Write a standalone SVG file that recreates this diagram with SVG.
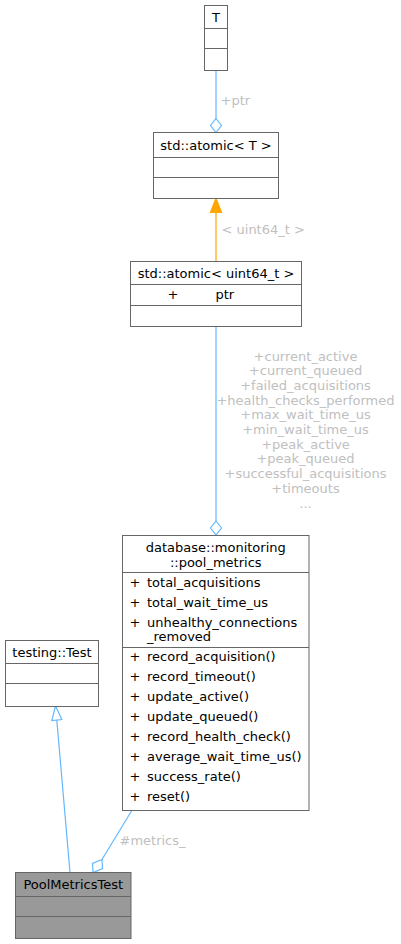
<svg xmlns="http://www.w3.org/2000/svg" width="401" height="944" viewBox="0 0 401 944">
<style>
text{font-family:"DejaVu Sans","Liberation Sans",sans-serif;font-size:13px;fill:#000}
.box{fill:#fff;stroke:#666;stroke-width:1}
.hl{fill:#999;stroke:#666;stroke-width:1}
.div{stroke:#666;stroke-width:1}
.m{text-anchor:middle}
.lbl{fill:#c0c0c0}
.e{fill:none;stroke:#63b8ff;stroke-width:1.2}
.eo{fill:none;stroke:#ffa500;stroke-width:1.2}
</style>
<rect width="401" height="944" fill="#fff"/>
<g id="connectors">
  <path class="e" d="M216,70.5 V119"/>
  <polygon points="216,118.5 221.5,125.5 216,132.5 210.5,125.5" fill="#fff" stroke="#63b8ff" stroke-width="1.2"/>
  <text x="220.5" y="105" class="lbl">+ptr</text>
  <path class="eo" d="M216,261.5 V212"/>
  <polygon points="216,198.5 221.5,212.5 210.5,212.5" fill="#ffa500" stroke="#ffa500" stroke-width="1.2"/>
  <text x="221.5" y="234" class="lbl">&lt; uint64_t &gt;</text>
  <path class="e" d="M216,326.5 V521"/>
  <polygon points="216,521 221.5,528 216,535 210.5,528" fill="#fff" stroke="#63b8ff" stroke-width="1.2"/>
  <g class="lbl m">
    <text x="305.5" y="360.5" class="lbl m">+current_active</text>
    <text x="305.5" y="375.2" class="lbl m">+current_queued</text>
    <text x="305.5" y="389.9" class="lbl m">+failed_acquisitions</text>
    <text x="305.5" y="404.6" class="lbl m">+health_checks_performed</text>
    <text x="305.5" y="419.3" class="lbl m">+max_wait_time_us</text>
    <text x="305.5" y="434" class="lbl m">+min_wait_time_us</text>
    <text x="305.5" y="448.7" class="lbl m">+peak_active</text>
    <text x="305.5" y="463.4" class="lbl m">+peak_queued</text>
    <text x="305.5" y="478.1" class="lbl m">+successful_acquisitions</text>
    <text x="305.5" y="492.8" class="lbl m">+timeouts</text>
    <text x="305.5" y="507.5" class="lbl m">...</text>
  </g>
  <path class="e" d="M70,872.5 L56.8,720"/>
  <polygon points="55.5,706 61.8,719.5 51.8,720.5" fill="#fff" stroke="#63b8ff" stroke-width="1.2"/>
  <path class="e" d="M131.5,811 L102,859.5"/>
  <polygon points="102,859.5 92.5,863.5 93,872.5 102.5,868.5" fill="#fff" stroke="#63b8ff" stroke-width="1.2"/>
  <text x="119.5" y="845" class="lbl">#metrics_</text>
</g>
<g id="node-T">
  <rect class="box" x="204.5" y="5.5" width="23" height="65"/>
  <path class="div" d="M204.5,28.5 H227.5 M204.5,48.5 H227.5"/>
  <text x="216" y="21.5" class="m">T</text>
</g>
<g id="node-atomic-T">
  <rect class="box" x="153.5" y="132.5" width="125" height="66"/>
  <path class="div" d="M153.5,157.5 H278.5 M153.5,177.5 H278.5"/>
  <text x="216" y="150" class="m">std::atomic&lt; T &gt;</text>
</g>
<g id="node-atomic-uint64">
  <rect class="box" x="130.5" y="261.5" width="171" height="65"/>
  <path class="div" d="M130.5,284.5 H301.5 M130.5,305.5 H301.5"/>
  <text x="216" y="278" class="m">std::atomic&lt; uint64_t &gt;</text>
  <text x="167.5" y="299">+</text>
  <text x="215.5" y="299">ptr</text>
</g>
<g id="node-pool-metrics">
  <rect class="box" x="122.5" y="535.5" width="186.5" height="275"/>
  <path class="div" d="M122.5,572.5 H309 M122.5,647.5 H309"/>
  <text x="215.75" y="551.5" class="m">database::monitoring</text>
  <text x="215.75" y="566.5" class="m">::pool_metrics</text>
  <text x="129.5" y="586.5">+</text><text x="147" y="586.5">total_acquisitions</text>
  <text x="129.5" y="606.5">+</text><text x="147" y="606.5">total_wait_time_us</text>
  <text x="129.5" y="626.5">+</text><text x="147" y="626.5">unhealthy_connections</text>
  <text x="147" y="641">_removed</text>
  <text x="129.5" y="661">+</text><text x="147" y="661">record_acquisition()</text>
  <text x="129.5" y="681">+</text><text x="147" y="681">record_timeout()</text>
  <text x="129.5" y="701">+</text><text x="147" y="701">update_active()</text>
  <text x="129.5" y="721">+</text><text x="147" y="721">update_queued()</text>
  <text x="129.5" y="741">+</text><text x="147" y="741">record_health_check()</text>
  <text x="129.5" y="761">+</text><text x="147" y="761">average_wait_time_us()</text>
  <text x="129.5" y="781">+</text><text x="147" y="781">success_rate()</text>
  <text x="129.5" y="801">+</text><text x="147" y="801">reset()</text>
</g>
<g id="node-testing-Test">
  <rect class="box" x="5.5" y="640.5" width="93" height="66"/>
  <path class="div" d="M5.5,663.5 H98.5 M5.5,683.5 H98.5"/>
  <text x="52" y="657" class="m">testing::Test</text>
</g>
<g id="node-PoolMetricsTest">
  <rect class="hl" x="15.5" y="872.5" width="115.5" height="66"/>
  <path class="div" d="M15.5,896.5 H131 M15.5,916.5 H131"/>
  <text x="73.25" y="889" class="m">PoolMetricsTest</text>
</g>
</svg>
